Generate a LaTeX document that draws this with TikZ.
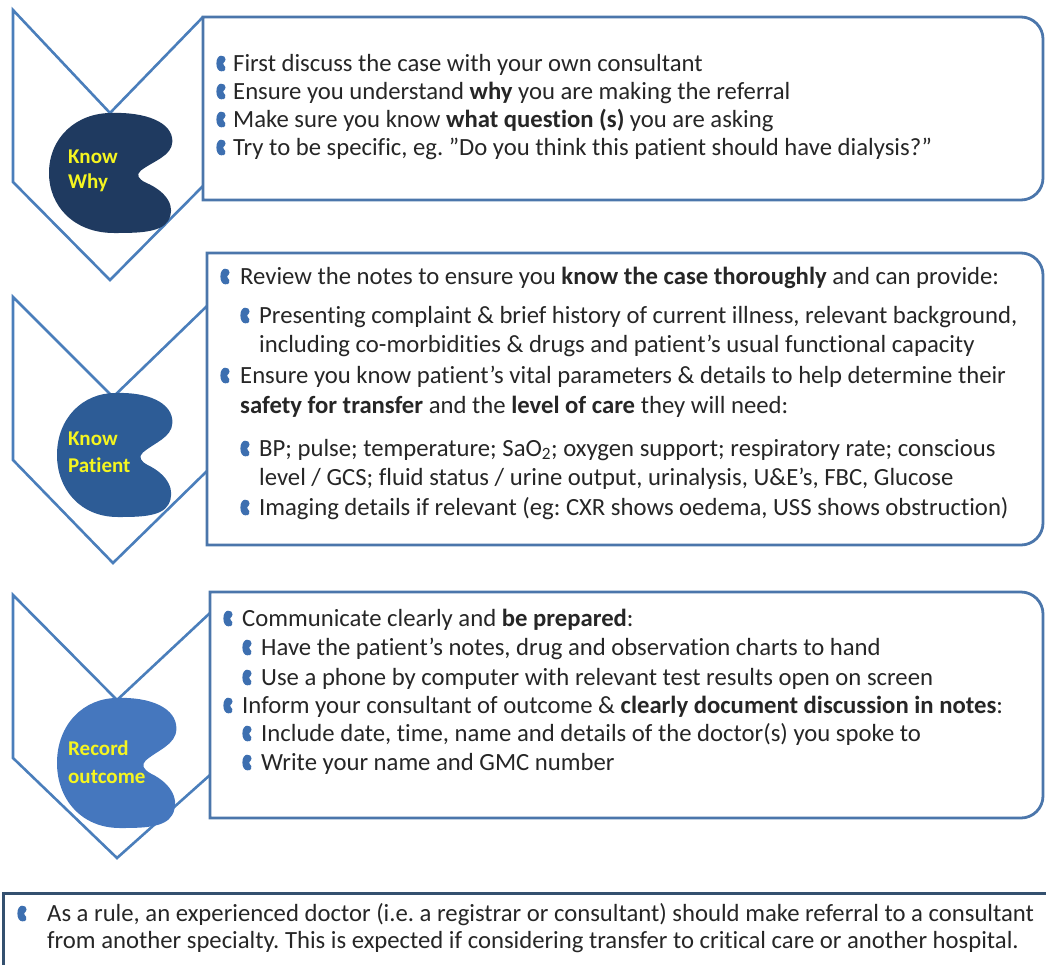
\documentclass[tikz,border=0pt]{standalone}
\usepackage{fontspec}
\setmainfont{Carlito}[Ligatures=NoCommon]
\frenchspacing
\definecolor{chev}{HTML}{4A7EBB}
\definecolor{boxc}{HTML}{4B76AB}
\definecolor{blobA}{HTML}{1F3A60}
\definecolor{blobB}{HTML}{2D5C96}
\definecolor{blobC}{HTML}{4577BE}
\definecolor{bulc}{HTML}{3D6FB0}
\definecolor{yel}{HTML}{F5F520}
\definecolor{textc}{HTML}{262626}
\definecolor{notec}{HTML}{34506F}
\tikzset{
  kidney/.pic={
    \path[pic actions] (0,-1) .. controls (0.55,-1.02) and (1.0,-0.85) .. (0.99,-0.52)
      .. controls (0.98,-0.28) and (0.68,-0.2) .. (0.48,-0.04)
      .. controls (0.40,0.03) and (0.44,0.1) .. (0.56,0.16)
      .. controls (0.92,0.32) and (1.05,0.58) .. (0.92,0.8)
      .. controls (0.8,1.0) and (0.4,1.0) .. (0.05,1.0)
      .. controls (-0.6,1.0) and (-1,0.55) .. (-1,0)
      .. controls (-1,-0.6) and (-0.55,-1) .. (0,-1) -- cycle;
  },
  chevline/.style={draw=chev, line width=2.6pt, line join=miter},
  panel/.style={draw=boxc, line width=2.8pt, fill=white},
  txt/.style={anchor=base west, inner sep=0pt, text=textc, font=\fontsize{24.7}{28}\selectfont},
  lbl/.style={anchor=base west, inner sep=0pt, text=yel, font=\fontsize{21}{26}\selectfont\bfseries},
}
% a small kidney bullet centred 7.5 units above the given baseline
\newcommand\bul[2]{\pic[fill=bulc, xscale=4.6, yscale=7.8] at (#1,#2-7.5) {kidney};}
% panel with square left corners and rounded right corners
\newcommand\rpanel[4]{%
  \draw[panel] (#1,#2) -- (#3-22,#2) .. controls (#3-9.9,#2) and (#3,#2+9.9) .. (#3,#2+22)
    -- (#3,#4-22) .. controls (#3,#4-9.9) and (#3-9.9,#4) .. (#3-22,#4) -- (#1,#4) -- cycle;}
\begin{document}
\begin{tikzpicture}[x=1pt, y=-1pt]
\useasboundingbox (0,0) rectangle (1046,964);
\clip (0,0) rectangle (1046,964);

% chevrons
\draw[chevline] (203,17) -- (110,113) -- (13,10) -- (13,182) -- (110,280) -- (203,186);
\draw[chevline] (207,306) -- (113,397) -- (13,297) -- (13,460) -- (113,563) -- (207,471);
\draw[chevline] (210,613) -- (117,700) -- (13,595) -- (13,758) -- (117,858) -- (210,775);

% kidney markers with their labels
\pic[fill=blobA, xscale=62, yscale=60] at (111,173) {kidney};
\pic[fill=blobB, xscale=58, yscale=62] at (115,455) {kidney};
\pic[fill=blobC, xscale=60, yscale=65] at (117,763) {kidney};
\node[lbl] (kw1) at (68,163) {Know};
\node[lbl] (kw2) at (68,188) {Why};
\node[lbl] (kp1) at (68,445) {Know};
\node[lbl] (kp2) at (68,472) {Patient};
\node[lbl] (ro1) at (68,755) {Record};
\node[lbl] (ro2) at (68,783) {outcome};

% panels
\rpanel{203}{17}{1043}{200}
\rpanel{207}{253}{1043}{545}
\rpanel{210}{592}{1043}{818}

% panel 1
\bul{221}{71}  \node[txt] (a1) at (233,71) {First discuss the case with your own consultant};
\bul{221}{99}  \node[txt] (a2) at (233,99) {Ensure you understand \textbf{why} you are making the referral};
\bul{221}{127} \node[txt] (a3) at (233,127) {Make sure you know \textbf{what question (s)} you are asking};
\bul{221}{155} \node[txt] (a4) at (233,155) {Try to be specific, eg. ”Do you think this patient should have dialysis?”};

% panel 2
\bul{225}{284} \node[txt] (b1) at (240,284) {Review the notes to ensure you \textbf{know the case thoroughly} and can provide:};
\bul{245}{323} \node[txt] (b2) at (259,323) {Presenting complaint \& brief history of current illness, relevant background,};
               \node[txt] (b3) at (259,352) {including co-morbidities \& drugs and patient’s usual functional capacity};
\bul{225}{383} \node[txt] (b4) at (240,383) {Ensure you know patient’s vital parameters \& details to help determine their};
               \node[txt] (b5) at (240,413) {\textbf{safety for transfer} and the \textbf{level of care} they will need:};
\bul{245}{456} \node[txt] (b6) at (259,456) {BP; pulse; temperature; SaO\textsubscript{2}; oxygen support; respiratory rate; conscious};
               \node[txt] (b7) at (259,485) {level / GCS; fluid status / urine output, urinalysis, U\&E’s, FBC, Glucose};
\bul{245}{515} \node[txt] (b8) at (259,515) {Imaging details if relevant (eg: CXR shows oedema, USS shows obstruction)};

% panel 3
\bul{228}{626} \node[txt] (c1) at (242,626) {Communicate clearly and \textbf{be prepared}:};
\bul{247}{655} \node[txt] (c2) at (261,655) {Have the patient’s notes, drug and observation charts to hand};
\bul{247}{685} \node[txt] (c3) at (261,685) {Use a phone by computer with relevant test results open on screen};
\bul{228}{713} \node[txt] (c4) at (242,713) {Inform your consultant of outcome \& \textbf{clearly document discussion in notes}:};
\bul{247}{741} \node[txt] (c5) at (261,741) {Include date, time, name and details of the doctor(s) you spoke to};
\bul{247}{770} \node[txt] (c6) at (261,770) {Write your name and GMC number};

% note at the foot
\draw[draw=notec, line width=3pt] (3,893) rectangle (1060,990);
\bul{22}{921} \node[txt] (d1) at (47,921) {As a rule, an experienced doctor (i.e. a registrar or consultant) should make referral to a consultant};
              \node[txt] (d2) at (47,948) {from another specialty. This is expected if considering transfer to critical care or another hospital.};
\end{tikzpicture}
\end{document}
